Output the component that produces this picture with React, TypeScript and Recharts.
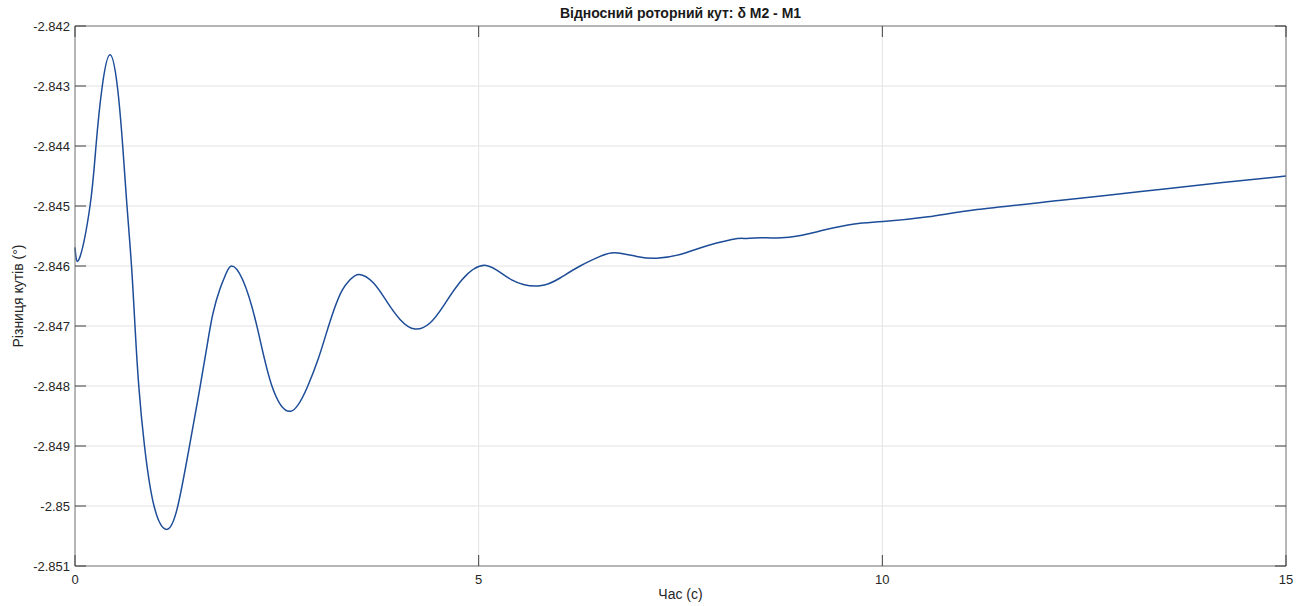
import React from "react";
import { LineChart, Line, XAxis, YAxis, CartesianGrid } from "recharts";

// rotor angle difference, M2 relative to M1 (degrees) vs time (s)
const timeS = [
  0, 0.053, 0.186, 0.26, 0.338, 0.434, 0.524, 0.591, 0.644, 0.7, 0.743, 0.79,
  0.861, 0.979, 1.136, 1.27, 1.406, 1.536, 1.641, 1.709, 1.796, 1.87, 1.941,
  2.077, 2.251, 2.437, 2.672, 2.877, 3.01, 3.109, 3.208, 3.307, 3.406, 3.522,
  3.695, 3.861, 4.026, 4.211, 4.397, 4.562, 4.794, 5.091, 5.409, 5.76, 6.008,
  6.256, 6.504, 6.689, 6.958, 7.205, 7.494, 7.742, 8.135, 8.299, 8.49, 8.844,
  9.25, 9.655, 10.008, 10.566, 11.173, 12.188, 13.202, 14.215, 15,
];
const angleDiff = [
  -2.84569, -2.84588, -2.845, -2.844, -2.843, -2.84248, -2.843, -2.844, -2.845,
  -2.846, -2.847, -2.848, -2.849, -2.85, -2.85039, -2.85002, -2.84909,
  -2.84812, -2.84729, -2.84679, -2.84638, -2.84613, -2.846, -2.84623,
  -2.84699, -2.84799, -2.84842, -2.84802, -2.84756, -2.84714, -2.84673,
  -2.84641, -2.84623, -2.84614, -2.84628, -2.84659, -2.84689, -2.84705,
  -2.84695, -2.84667, -2.84623, -2.84599, -2.84623, -2.84633, -2.8462, -2.846,
  -2.84584, -2.84578, -2.84584, -2.84587, -2.84581, -2.8457, -2.84556,
  -2.84554, -2.84553, -2.84552, -2.84541, -2.8453, -2.84526, -2.84518,
  -2.84506, -2.84491, -2.84476, -2.84461, -2.8445,
];
const xTicks = [0, 5, 10, 15];
const yTicks = [
  -2.851, -2.85, -2.849, -2.848, -2.847, -2.846, -2.845, -2.844, -2.843, -2.842,
];

const data = timeS.map((t, i) => ({ t, v: angleDiff[i] }));

const W = 1307;
const H = 606;
const LEFT = 75;
const RIGHT = 1286;
const TOP = 26;
const BOTTOM = 566;
const TICK_LEN = 11;
const FONT = "'Liberation Sans', Arial, sans-serif";
const BOX = "#7a7a7a";
const TICK = "#404040";

const fmtY = (v: number) => String(Number(v.toFixed(3)));

function YTick(props: any) {
  const { y, payload } = props;
  return (
    <g>
      <line x1={LEFT} x2={LEFT + TICK_LEN} y1={y} y2={y} stroke={TICK} />
      <line x1={RIGHT - TICK_LEN} x2={RIGHT} y1={y} y2={y} stroke={TICK} />
      <text
        x={LEFT - 5}
        y={y}
        dy={4.5}
        textAnchor="end"
        fontSize={13}
        fontFamily={FONT}
        fill="#262626"
      >
        {fmtY(payload.value)}
      </text>
    </g>
  );
}

function XTick(props: any) {
  const { x, payload } = props;
  return (
    <g>
      <line x1={x} x2={x} y1={BOTTOM} y2={BOTTOM - TICK_LEN} stroke={TICK} />
      <line x1={x} x2={x} y1={TOP} y2={TOP + TICK_LEN} stroke={TICK} />
      <text
        x={x}
        y={BOTTOM + 18}
        textAnchor="middle"
        fontSize={13}
        fontFamily={FONT}
        fill="#262626"
      >
        {payload.value}
      </text>
    </g>
  );
}

export default function App() {
  return (
    <div
      style={{
        position: "absolute",
        left: 0,
        top: 0,
        width: W,
        height: H,
        background: "#fff",
        fontFamily: FONT,
        color: "#1a1a1a",
      }}
    >
      <LineChart
        width={W}
        height={H}
        data={data}
        margin={{ top: 0, right: 0, bottom: 0, left: 0 }}
      >
        <CartesianGrid stroke="#e3e3e3" strokeWidth={1} />
        <XAxis
          dataKey="t"
          type="number"
          domain={[0, 15]}
          ticks={xTicks}
          height={H - BOTTOM}
          axisLine={{ stroke: BOX }}
          tickLine={false}
          tickSize={0}
          tick={<XTick />}
          interval={0}
        />
        <XAxis
          xAxisId="top"
          orientation="top"
          type="number"
          domain={[0, 15]}
          height={TOP}
          axisLine={{ stroke: BOX }}
          tick={false}
          tickLine={false}
        />
        <YAxis
          type="number"
          domain={[-2.851, -2.842]}
          ticks={yTicks}
          width={LEFT}
          allowDataOverflow
          axisLine={{ stroke: BOX }}
          tickLine={false}
          tickSize={0}
          tick={<YTick />}
          interval={0}
        />
        <YAxis
          yAxisId="right"
          orientation="right"
          type="number"
          domain={[-2.851, -2.842]}
          width={W - RIGHT}
          axisLine={{ stroke: BOX }}
          tick={false}
          tickLine={false}
        />
        <Line
          type="natural"
          dataKey="v"
          stroke="#1d4c98"
          strokeWidth={1.5}
          dot={false}
          isAnimationActive={false}
        />
      </LineChart>
      <div
        style={{
          position: "absolute",
          left: LEFT,
          width: RIGHT - LEFT,
          top: 5,
          textAlign: "center",
          fontWeight: "bold",
          fontSize: 14,
        }}
      >
        Відносний роторний кут: δ M2 - M1
      </div>
      <div
        style={{
          position: "absolute",
          left: LEFT,
          width: RIGHT - LEFT,
          top: 586,
          textAlign: "center",
          fontSize: 14,
          color: "#262626",
        }}
      >
        Час (с)
      </div>
      <div
        style={{
          position: "absolute",
          left: 18,
          top: (TOP + BOTTOM) / 2,
          transform: "translate(-50%, -50%) rotate(-90deg)",
          whiteSpace: "nowrap",
          fontSize: 14,
          color: "#262626",
        }}
      >
        Різниця кутів (°)
      </div>
    </div>
  );
}
